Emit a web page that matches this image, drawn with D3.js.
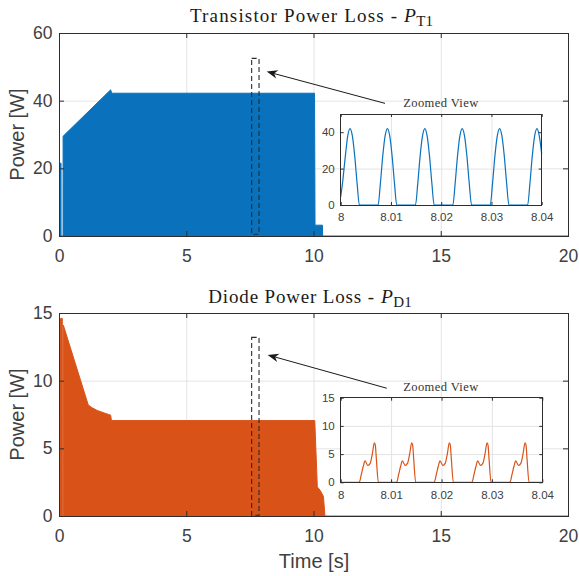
<!DOCTYPE html>
<html><head><meta charset="utf-8">
<script src="https://cdn.jsdelivr.net/npm/d3@7"></script>
<style>body{margin:0;background:#fff}svg{display:block}</style>
</head><body>
<svg id="c" width="579" height="576"></svg>
<script>
// ---------- DATA ----------
const mainXTicks = [0, 5, 10, 15, 20];
const transYTicks = [0, 20, 40, 60];
const diodeYTicks = [0, 5, 10, 15];
const zoomXTicks = [8, 8.01, 8.02, 8.03, 8.04];
const transZoomYTicks = [0, 20, 40];
const diodeZoomYTicks = [0, 5, 10, 15];

// envelope of the transistor loss (dense switching waveform, drawn filled)
const transTime  = [0, 0.02, 0.021, 0.08, 0.081, 0.16, 0.161, 2.03, 2.07, 10.04, 10.06, 10.35, 10.36, 20];
const transPower = [0, 0,    21.5,  21.5, 0,     0,    29.5,  43.2, 42.2, 42.2,  3.2,   3.2,   0,     0];

// envelope of the diode loss
const diodeTime  = [0, 0.06, 0.061, 0.13, 0.131, 0.17, 0.171, 1.15, 1.3, 1.5, 1.8, 2.03, 2.06, 10.05, 10.15, 10.26, 10.39, 10.45, 20];
const diodePower = [0, 0,    14.6,  14.6, 0,     0,    14.1,  8.2,  8.0, 7.8, 7.6, 7.45, 7.05, 7.05,  2.15,  1.9,   1.45,  0,     0];

// zoomed view, transistor
const transZoomTime = [
  8.0000, 8.0004, 8.00093, 8.0014, 8.00186, 8.00232, 8.00279, 8.00326, 8.00372,
  8.00744, 8.0079, 8.00837, 8.00884, 8.0093, 8.00976, 8.01023, 8.0107, 8.01116,
  8.01488, 8.01534, 8.01581, 8.01628, 8.01674, 8.0172, 8.01767, 8.01814, 8.0186,
  8.02232, 8.02278, 8.02325, 8.02372, 8.02418, 8.02464, 8.02511, 8.02558, 8.02604,
  8.02976, 8.03022, 8.03069, 8.03116, 8.03162, 8.03208, 8.03255, 8.03302, 8.03348,
  8.0372, 8.03766, 8.03813, 8.0386, 8.03906, 8.03952, 8.04];
const transZoomPower = [
  4.5, 13, 27, 38, 42, 38, 27, 12, 0,
  0, 12, 27, 38, 42, 38, 27, 12, 0,
  0, 12, 27, 38, 42, 38, 27, 12, 0,
  0, 12, 27, 38, 42, 38, 27, 12, 0,
  0, 12, 27, 38, 42, 38, 27, 12, 0,
  0, 12, 27, 38, 42, 38, 28];

// zoomed view, diode
const diodeZoomTime = [
  8.0,
  8.00367, 8.00407, 8.00447, 8.00483, 8.00537, 8.00587, 8.00627, 8.00667, 8.00687, 8.00707, 8.00747,
  8.01108, 8.01148, 8.01188, 8.01224, 8.01278, 8.01328, 8.01368, 8.01408, 8.01428, 8.01448, 8.01488,
  8.01855, 8.01895, 8.01935, 8.01971, 8.02025, 8.02075, 8.02115, 8.02155, 8.02175, 8.02195, 8.02235,
  8.02603, 8.02643, 8.02683, 8.02719, 8.02773, 8.02823, 8.02863, 8.02903, 8.02923, 8.02943, 8.02983,
  8.03357, 8.03397, 8.03437, 8.03473, 8.03527, 8.03577, 8.03617, 8.03657, 8.03677, 8.03697, 8.03737,
  8.04];
const diodeZoomPower = [
  0,
  0, 1.3, 2.8, 3.8, 3.0, 3.4, 5.0, 7.0, 6.6, 4.2, 0,
  0, 1.3, 2.8, 3.8, 3.0, 3.4, 5.0, 7.0, 6.6, 4.2, 0,
  0, 1.3, 2.8, 3.8, 3.0, 3.4, 5.0, 7.0, 6.6, 4.2, 0,
  0, 1.3, 2.8, 3.8, 3.0, 3.4, 5.0, 7.0, 6.6, 4.2, 0,
  0, 1.3, 2.8, 3.8, 3.0, 3.4, 5.0, 7.0, 6.6, 4.2, 0,
  0];

// zoom-window markers (data coordinates of the main axes)
const transBoxT = [7.57, 7.86], transBoxP = [0.5, 52.5];
const diodeBoxT = [7.57, 7.86], diodeBoxP = [0.05, 13.2];
const transArrow = {from: [12.81, 39.2], to: [8.16, 48.6]};
const diodeArrow = {from: [12.88, 9.44], to: [8.2, 11.9]};

// ---------- DRAW ----------
const BLUE = "#0a72bd", ORANGE = "#D95319";
const SANS = "'Liberation Sans', Arial, Helvetica, sans-serif";
const SERIF = "'Liberation Serif', 'Times New Roman', serif";
const AX = "#2e2e2e", TXT = "#404040", GRID = "#e4e4e4";
const svg = d3.select("#c");

function zip(a, b) { return a.map((d, i) => [d, b[i]]); }

function drawAxes(g, x, y, xt, yt) {
  const [xa, xb] = x.range(), [yb, ya] = y.range();
  const gx = xt.slice(1, -1), gy = yt.slice(1, -1);
  g.append("g").attr("transform", `translate(0,${yb})`)
    .call(d3.axisBottom(x).tickValues(gx).tickSize(-(yb - ya)).tickFormat(""))
    .call(s => { s.select(".domain").remove(); s.selectAll(".tick line").attr("stroke", GRID); });
  g.append("g").attr("transform", `translate(${xa},0)`)
    .call(d3.axisLeft(y).tickValues(gy).tickSize(-(xb - xa)).tickFormat(""))
    .call(s => { s.select(".domain").remove(); s.selectAll(".tick line").attr("stroke", GRID); });
}

function drawFrame(g, x, y, xt, yt, o) {
  const [xa, xb] = x.range(), [yb, ya] = y.range();
  const style = s => {
    s.select(".domain").remove();
    s.attr("font-family", SANS).attr("font-size", o.font);
    s.selectAll(".tick line").attr("stroke", AX).attr("stroke-width", 1);
    s.selectAll(".tick text").attr("fill", TXT);
  };
  g.append("g").attr("transform", `translate(0,${yb})`)
    .call(d3.axisBottom(x).tickValues(xt).tickSizeInner(-o.tick).tickSizeOuter(0).tickPadding(o.padX).tickFormat(o.xfmt))
    .call(style);
  g.append("g").attr("transform", `translate(0,${ya})`)
    .call(d3.axisTop(x).tickValues(xt).tickSizeInner(-o.tick).tickSizeOuter(0).tickFormat(""))
    .call(style);
  g.append("g").attr("transform", `translate(${xa},0)`)
    .call(d3.axisLeft(y).tickValues(yt).tickSizeInner(-o.tick).tickSizeOuter(0).tickPadding(o.padY).tickFormat(d3.format("d")))
    .call(style);
  g.append("g").attr("transform", `translate(${xb},0)`)
    .call(d3.axisRight(y).tickValues(yt).tickSizeInner(-o.tick).tickSizeOuter(0).tickFormat(""))
    .call(style);
  g.append("rect").attr("x", xa).attr("y", ya).attr("width", xb - xa).attr("height", yb - ya)
    .attr("fill", "none").attr("stroke", AX).attr("stroke-width", 1).attr("shape-rendering", "crispEdges");
}

function panel(cfg) {
  const g = svg.append("g");
  const x = d3.scaleLinear().domain([0, 20]).range([59, 568]);
  const y = d3.scaleLinear().domain(cfg.yDomain).range(cfg.yRange);
  drawAxes(g, x, y, mainXTicks, cfg.yTicks);
  const data = zip(cfg.time, cfg.power);
  g.append("path").datum(data)
    .attr("d", d3.area().x(d => x(d[0])).y0(y(0)).y1(d => y(d[1])))
    .attr("fill", cfg.color);
  g.append("path").datum(data)
    .attr("d", d3.line().x(d => x(d[0])).y(d => y(d[1])))
    .attr("fill", "none").attr("stroke", cfg.color).attr("stroke-width", 1);
  drawFrame(g, x, y, mainXTicks, cfg.yTicks, {tick: 5, font: 17.5, padX: 13.5, padY: 6.5, xfmt: d3.format("d")});

  // y label
  const ym = (cfg.yRange[0] + cfg.yRange[1]) / 2;
  g.append("text").attr("transform", `translate(24,${ym}) rotate(-90)`)
    .attr("text-anchor", "middle").attr("font-family", SANS).attr("font-size", 20)
    .attr("fill", TXT).text("Power [W]");

  // title
  const tt = g.append("g").attr("font-family", SERIF).attr("fill", "#1a1a1a");
  tt.append("text").attr("x", cfg.title.x).attr("y", cfg.title.y).attr("font-size", 19)
    .attr("textLength", cfg.title.len).attr("lengthAdjust", "spacing").text(cfg.title.text);
  tt.append("text").attr("x", cfg.title.px).attr("y", cfg.title.y).attr("font-size", 19.5)
    .attr("font-style", "italic").text("P");
  tt.append("text").attr("x", cfg.title.px + 12.3).attr("y", cfg.title.y + 4.3).attr("font-size", 15)
    .text(cfg.title.sub);

  // dashed zoom window
  g.append("rect")
    .attr("x", x(cfg.boxT[0])).attr("y", y(cfg.boxP[1]))
    .attr("width", x(cfg.boxT[1]) - x(cfg.boxT[0])).attr("height", y(cfg.boxP[0]) - y(cfg.boxP[1]))
    .attr("fill", "none").attr("stroke", "#2b2b2b").attr("stroke-width", 1.1).attr("stroke-dasharray", "5,3");

  // arrow
  const [x1, y1] = [x(cfg.arrow.from[0]), y(cfg.arrow.from[1])];
  const [x2, y2] = [x(cfg.arrow.to[0]), y(cfg.arrow.to[1])];
  const ang = Math.atan2(y2 - y1, x2 - x1), L = 11, Wd = 4.2;
  const ux = Math.cos(ang), uy = Math.sin(ang), nx = -uy, ny = ux;
  const bx = x2 - ux * L, by = y2 - uy * L;
  const mx = x2 - ux * L * 0.7, my = y2 - uy * L * 0.7;
  g.append("line").attr("x1", x1).attr("y1", y1).attr("x2", mx).attr("y2", my)
    .attr("stroke", "#1a1a1a").attr("stroke-width", 1);
  g.append("path").attr("d", `M${x2},${y2}L${bx + nx * Wd},${by + ny * Wd}L${mx},${my}L${bx - nx * Wd},${by - ny * Wd}Z`)
    .attr("fill", "#1a1a1a");

  // inset
  const zx = d3.scaleLinear().domain([8, 8.04]).range(cfg.inset.x);
  const zy = d3.scaleLinear().domain(cfg.inset.yDomain).range(cfg.inset.y);
  const zg = svg.append("g");
  zg.append("rect").attr("x", cfg.inset.x[0]).attr("y", cfg.inset.y[1])
    .attr("width", cfg.inset.x[1] - cfg.inset.x[0]).attr("height", cfg.inset.y[0] - cfg.inset.y[1]).attr("fill", "#fff");
  drawAxes(zg, zx, zy, zoomXTicks, cfg.inset.yTicks);
  zg.append("path").datum(zip(cfg.inset.time, cfg.inset.power))
    .attr("d", d3.line().x(d => zx(d[0])).y(d => zy(d[1])).curve(d3.curveMonotoneX))
    .attr("fill", "none").attr("stroke", cfg.color).attr("stroke-width", 1.2);
  drawFrame(zg, zx, zy, zoomXTicks, cfg.inset.yTicks,
    {tick: 3, font: 11.5, padX: 8.3, padY: 6, xfmt: d => d === 8 ? "8" : d3.format(".2f")(d)});
  zg.append("text").attr("x", 440.7).attr("y", cfg.inset.labelY).attr("text-anchor", "middle")
    .attr("font-family", SERIF).attr("font-size", 12.5).attr("fill", "#333")
    .attr("textLength", 75).attr("lengthAdjust", "spacing").text("Zoomed View");
}

panel({
  yDomain: [0, 60], yRange: [236, 33], yTicks: transYTicks, color: BLUE,
  time: transTime, power: transPower,
  title: {text: "Transistor Power Loss -", x: 190, y: 21.7, len: 207, px: 404, sub: "T1"},
  boxT: transBoxT, boxP: transBoxP, arrow: transArrow,
  inset: {x: [340.7, 541.7], y: [205, 114], yDomain: [0, 50], yTicks: transZoomYTicks,
          time: transZoomTime, power: transZoomPower, labelY: 106.5}
});
panel({
  yDomain: [0, 15], yRange: [516, 313], yTicks: diodeYTicks, color: ORANGE,
  time: diodeTime, power: diodePower,
  title: {text: "Diode Power Loss -", x: 208.3, y: 302.5, len: 165.7, px: 381, sub: "D1"},
  boxT: diodeBoxT, boxP: diodeBoxP, arrow: diodeArrow,
  inset: {x: [340.7, 542.3], y: [482.3, 397.7], yDomain: [0, 15], yTicks: diodeZoomYTicks,
          time: diodeZoomTime, power: diodeZoomPower, labelY: 390.7}
});

svg.append("text").attr("x", 314).attr("y", 568).attr("text-anchor", "middle")
  .attr("font-family", SANS).attr("font-size", 20).attr("fill", TXT).text("Time [s]");
</script>
</body></html>
